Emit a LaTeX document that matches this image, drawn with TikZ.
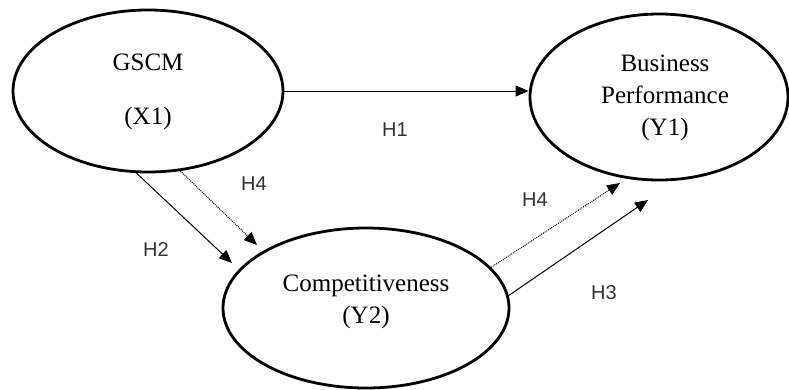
\documentclass[tikz,border=0pt]{standalone}
\usepackage{fontspec}
\setmainfont{Liberation Serif}
\newfontfamily\hfont{Liberation Sans}
\usepackage{tikz}
\usetikzlibrary{arrows.meta,shapes.geometric}
\definecolor{labcol}{HTML}{333333}

\begin{document}
\begin{tikzpicture}[x=1pt,y=-1pt,>={Triangle[length=13pt,width=11pt]},
  construct/.style={ellipse,draw,line width=2.8pt,inner sep=0pt},
  cname/.style={font=\fontsize{25}{33}\selectfont,align=center},
  path/.style={->,line width=1pt},
  indirect/.style={->,line width=1pt,densely dotted},
  hyp/.style={font=\hfont\fontsize{20}{22}\selectfont,text=labcol}]
  \useasboundingbox (0,0) rectangle (789,389);
  % latent constructs
  \node[construct,minimum width=270pt,minimum height=162pt] (gscm) at (148,91) {};
  \node[cname] (gscmname) at (148,62) {GSCM};
  \node[cname] (gscmvar) at (148,118) {(X1)};
  \node[construct,minimum width=258pt,minimum height=166pt] (bp) at (659,97) {};
  \node[cname] (bptext) at (665,98) {Business\\[-1pt]Performance\\[-1pt](Y1)};
  \node[construct,minimum width=286pt,minimum height=160pt] (comp) at (366,308) {};
  \node[cname] (comptext) at (366,302) {Competitiveness\\[-1pt](Y2)};
  % free ends of the paths
  \coordinate (h2end) at (232,263);
  \coordinate (h4aend) at (257,245);
  \coordinate (h4bend) at (620,183);
  \coordinate (h3end) at (648,200);
  % hypothesised paths
  \draw[path] (gscm.east) -- (gscm.east -| bp.west);
  \draw[path] (gscm.262) -- (h2end);
  \draw[indirect] (gscm.292) -- (h4aend);
  \draw[indirect] (comp.18) -- (h4bend);
  \draw[path] (comp.5) -- (h3end);
  % labels
  \node[hyp] (h1) at (395,130) {H1};
  \node[hyp] (h2) at (156,250) {H2};
  \node[hyp] (h4a) at (254,184) {H4};
  \node[hyp] (h4b) at (535,200) {H4};
  \node[hyp] (h3) at (604,293) {H3};
\end{tikzpicture}
\end{document}
